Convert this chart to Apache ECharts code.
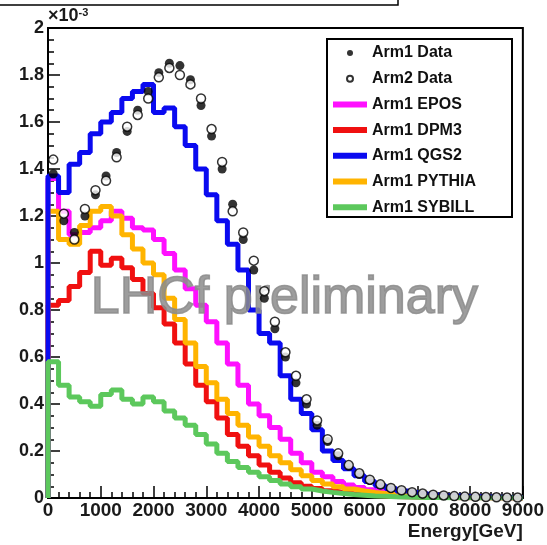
<!DOCTYPE html>
<html lang="en">
<head>
    <meta charset="UTF-8">
    <title>LHCf energy spectrum</title>
    <script src="https://cdn.jsdelivr.net/npm/echarts@6/dist/echarts.min.js"></script>
    <style>
        html, body { margin: 0; padding: 0; background: #fff; }
    </style>
</head>
<body>
    <div id="main" style="width: 547px; height: 545px;"></div>
    <script>
        // 200 GeV bins from 0 to 9000 GeV, values in units of 1e-3
        var binWidth = 200;
        var xTicks = [0, 1000, 2000, 3000, 4000, 5000, 6000, 7000, 8000, 9000];

        var arm1Data = [1.38, 1.18, 1.13, 1.20, 1.29, 1.37, 1.47, 1.56, 1.65, 1.73, 1.81, 1.85, 1.84, 1.78, 1.67,
            1.54, 1.40, 1.25, 1.10, 0.97, 0.85, 0.72, 0.60, 0.49, 0.40, 0.31, 0.24, 0.18, 0.135, 0.10,
            0.074, 0.055, 0.041, 0.031, 0.023, 0.017, 0.013, 0.010, 0.007, 0.006, 0.004, 0.003, 0.003, 0.002, 0.002];
        var arm2Data = [1.44, 1.21, 1.10, 1.23, 1.31, 1.35, 1.45, 1.58, 1.63, 1.70, 1.79, 1.83, 1.80, 1.76, 1.70,
            1.57, 1.43, 1.22, 1.13, 1.01, 0.88, 0.75, 0.62, 0.52, 0.42, 0.33, 0.25, 0.19, 0.14, 0.105,
            0.078, 0.058, 0.043, 0.033, 0.025, 0.019, 0.014, 0.011, 0.008, 0.006, 0.005, 0.004, 0.003, 0.002, 0.002];

        var epos = [1.36, 1.22, 1.12, 1.13, 1.15, 1.18, 1.22, 1.19, 1.15, 1.14, 1.10, 1.04, 0.97, 0.89, 0.82,
            0.75, 0.66, 0.57, 0.48, 0.40, 0.35, 0.30, 0.25, 0.19, 0.15, 0.11, 0.09, 0.07, 0.055, 0.045,
            0.035, 0.028, 0.022, 0.017, 0.013, 0.010, 0.008, 0.006, 0.005, 0.004, 0.003, 0.002, 0.002, 0.001, 0.001];
        var dpm3 = [0.82, 0.84, 0.90, 0.96, 1.05, 0.99, 1.02, 0.98, 0.93, 0.87, 0.81, 0.74, 0.66, 0.57, 0.48,
            0.41, 0.34, 0.27, 0.22, 0.18, 0.14, 0.11, 0.085, 0.065, 0.05, 0.04, 0.031, 0.024, 0.018, 0.014,
            0.011, 0.008, 0.006, 0.005, 0.004, 0.003, 0.002, 0.002, 0.001, 0.001, 0.001, 0.0005, 0.0005, 0.0003, 0.0003];
        var qgs2 = [1.37, 1.30, 1.42, 1.47, 1.55, 1.60, 1.64, 1.70, 1.73, 1.76, 1.64, 1.66, 1.58, 1.50, 1.40,
            1.29, 1.18, 1.08, 0.97, 0.80, 0.70, 0.66, 0.52, 0.42, 0.36, 0.29, 0.20, 0.16, 0.125, 0.095,
            0.07, 0.052, 0.04, 0.03, 0.023, 0.017, 0.013, 0.010, 0.008, 0.006, 0.005, 0.004, 0.003, 0.002, 0.002];
        var pythia = [1.22, 1.10, 1.08, 1.16, 1.22, 1.24, 1.20, 1.12, 1.06, 1.00, 0.95, 0.85, 0.76, 0.66, 0.56,
            0.49, 0.42, 0.36, 0.31, 0.26, 0.22, 0.18, 0.15, 0.12, 0.095, 0.075, 0.06, 0.048, 0.038, 0.03,
            0.024, 0.019, 0.015, 0.012, 0.009, 0.007, 0.005, 0.004, 0.003, 0.002, 0.002, 0.001, 0.001, 0.001, 0.0005];
        var sybill = [0.58, 0.48, 0.43, 0.41, 0.39, 0.44, 0.46, 0.42, 0.40, 0.43, 0.41, 0.37, 0.34, 0.31, 0.27,
            0.23, 0.19, 0.155, 0.13, 0.11, 0.09, 0.075, 0.06, 0.048, 0.038, 0.03, 0.024, 0.019, 0.015, 0.012,
            0.009, 0.007, 0.005, 0.004, 0.003, 0.002, 0.002, 0.001, 0.001, 0.001, 0.0005, 0.0005, 0.0003, 0.0003, 0.0002];

        var FONT = 'Liberation Sans';

        // histogram outline: start at 0, one point per bin edge, close at the last edge
        function histLine(vals) {
            var pts = [[0, 0]];
            vals.forEach(function (v, i) { pts.push([i * binWidth, v]); });
            pts.push([vals.length * binWidth, vals[vals.length - 1]]);
            return pts;
        }
        function points(vals) {
            return vals.map(function (v, i) { return [i * binWidth + binWidth / 2, v]; });
        }
        function hist(name, vals, color, z) {
            return {
                name: name, type: 'line', step: 'end', data: histLine(vals),
                symbol: 'none', z: z,
                lineStyle: { color: color, width: 5 },
                itemStyle: { color: color },
                emphasis: { disabled: true }
            };
        }

        var chartDom = document.getElementById('main');
        var myChart = echarts.init(chartDom);
        var option = {
            animation: false,
            backgroundColor: '#fff',
            grid: {
                left: 48, right: 24, top: 28, bottom: 47,
                show: true, borderColor: '#000', borderWidth: 2
            },
            legend: {
                orient: 'vertical',
                left: 333, top: 44,
                padding: 0,
                itemWidth: 34, itemHeight: 6, itemGap: 7.7,
                textStyle: { fontFamily: FONT, fontSize: 16, fontWeight: 'bold', color: '#111', lineHeight: 18 },
                selectedMode: false,
                data: [
                    { name: 'Arm1 Data', icon: 'circle' },
                    { name: 'Arm2 Data', icon: 'circle' },
                    { name: 'Arm1 EPOS', icon: 'rect' },
                    { name: 'Arm1 DPM3', icon: 'rect' },
                    { name: 'Arm1 QGS2', icon: 'rect' },
                    { name: 'Arm1 PYTHIA', icon: 'rect' },
                    { name: 'Arm1 SYBILL', icon: 'rect' }
                ]
            },
            xAxis: {
                type: 'value', min: xTicks[0], max: xTicks[xTicks.length - 1], interval: 1000,
                name: 'Energy[GeV]', nameLocation: 'end', nameGap: 0,
                nameTextStyle: {
                    fontFamily: FONT, fontSize: 19, fontWeight: 'bold', color: '#1a1a1a',
                    align: 'right', verticalAlign: 'top', padding: [24, 0, 0, 0]
                },
                axisLine: { lineStyle: { color: '#000', width: 2 } },
                axisTick: { inside: true, length: 12, lineStyle: { color: '#000', width: 1.5 } },
                minorTick: { show: true, splitNumber: 5, length: 6, lineStyle: { color: '#000', width: 1.5 } },
                splitLine: { show: false },
                axisLabel: {
                    fontFamily: FONT, fontSize: 19, fontWeight: 'bold', color: '#1a1a1a', margin: 3,
                    formatter: function (v) { return String(v); }
                }
            },
            yAxis: {
                type: 'value', min: 0, max: 2, interval: 0.2,
                axisLine: { lineStyle: { color: '#000', width: 2 } },
                axisTick: { inside: true, length: 12, lineStyle: { color: '#000', width: 1.5 } },
                minorTick: { show: true, splitNumber: 4, length: 6, lineStyle: { color: '#000', width: 1.5 } },
                splitLine: { show: false },
                axisLabel: { fontFamily: FONT, fontSize: 18, fontWeight: 'bold', color: '#1a1a1a', margin: 4 }
            },
            graphic: [
                {
                    type: 'rect', z: 50,
                    shape: { x: -5, y: -12, width: 403, height: 17 },
                    style: { fill: '#fff', stroke: '#000', lineWidth: 1.5 }
                },
                {
                    // y-axis exponent
                    type: 'text', z: 50, left: 48, top: 7,
                    style: {
                        text: '{a|×10}{b|-3}',
                        rich: {
                            a: { fontFamily: FONT, fontSize: 18, fontWeight: 'bold', fill: '#1a1a1a' },
                            b: { fontFamily: FONT, fontSize: 11, fontWeight: 'bold', fill: '#1a1a1a', verticalAlign: 'top' }
                        }
                    }
                },
                {
                    type: 'rect', z: 1,
                    shape: { x: 327, y: 39, width: 185, height: 178 },
                    style: { fill: '#fff', stroke: '#000', lineWidth: 2 }
                },
                {
                    type: 'text', z: 8, left: 90, top: 272,
                    style: {
                        text: 'LHCf preliminary', fontFamily: FONT, fontSize: 52,
                        fill: 'rgba(140,140,140,0.85)',
                        stroke: 'rgba(140,140,140,0.85)', lineWidth: 1.6
                    }
                }
            ],
            series: [
                hist('Arm1 EPOS', epos, '#ff10ff', 2),
                hist('Arm1 DPM3', dpm3, '#f01010', 3),
                hist('Arm1 PYTHIA', pythia, '#ffb400', 4),
                hist('Arm1 QGS2', qgs2, '#0a0af0', 5),
                hist('Arm1 SYBILL', sybill, '#5cc85c', 6),
                {
                    name: 'Arm1 Data', type: 'scatter', data: points(arm1Data), z: 10,
                    symbol: 'circle', symbolSize: 9,
                    itemStyle: { color: '#000' }
                },
                {
                    name: 'Arm2 Data', type: 'scatter', data: points(arm2Data), z: 11,
                    symbol: 'circle', symbolSize: 9,
                    itemStyle: { color: '#fff', borderColor: '#000', borderWidth: 1.5 }
                }
            ]
        };

        myChart.setOption(option);
        window.addEventListener('resize', function () {
            myChart.resize();
        });
    </script>
</body>
</html>
